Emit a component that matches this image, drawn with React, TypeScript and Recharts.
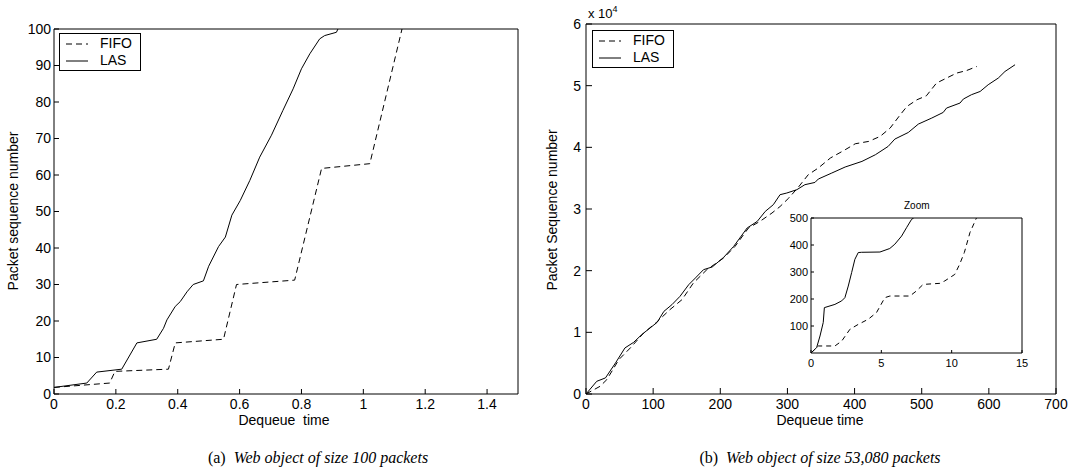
import React from 'react';
import { LineChart, Line, XAxis, YAxis, Legend } from 'recharts';

// (a) 100 packets
const lasTimeA = [0, 0.106, 0.138, 0.219, 0.268, 0.332, 0.354, 0.365, 0.392, 0.408, 0.43, 0.45, 0.483, 0.5, 0.532, 0.554, 0.575, 0.602, 0.633, 0.665, 0.703, 0.74, 0.773, 0.8, 0.827, 0.859, 0.875, 0.913, 0.918];
const lasSeqA = [1.8, 3, 6, 6.8, 14, 15, 18, 20.3, 24, 25.3, 28, 30, 31, 35, 40.4, 43, 49, 53, 58.5, 64.9, 70.9, 77.7, 83.6, 89.1, 93.2, 97.3, 98.2, 99.1, 100];
const fifoTimeA = [0, 0.18, 0.197, 0.37, 0.392, 0.548, 0.59, 0.778, 0.865, 1.021, 1.125];
const fifoSeqA = [1.8, 3, 6.2, 6.8, 14, 15, 30, 31.2, 61.8, 63.1, 100];
const xTicksA = [0, 0.2, 0.4, 0.6, 0.8, 1, 1.2, 1.4];
const yTicksA = [0, 10, 20, 30, 40, 50, 60, 70, 80, 90, 100];

// (b) 53,080 packets
const lasTimeB = [0, 16, 29, 44, 58, 71, 83, 106, 116, 128, 140, 153, 163, 175, 188, 205, 220, 240, 255, 267, 279, 289, 299, 314, 326, 341, 346, 366, 386, 411, 431, 450, 460, 480, 495, 515, 532, 537, 557, 562, 574, 587, 599, 614, 624, 639];
const lasSeqB = [0, 2060, 2610, 5040, 7470, 8380, 9630, 11620, 13400, 14490, 15840, 17730, 18820, 20160, 20600, 22160, 23940, 26920, 27990, 29610, 30700, 32320, 32590, 33130, 33940, 34310, 34860, 35830, 36810, 37720, 38800, 40150, 41340, 42410, 43770, 44750, 45660, 46370, 47180, 47830, 48530, 49060, 50150, 51230, 52300, 53390];
const fifoTimeB = [0, 21, 31, 49, 66, 86, 105, 125, 143, 160, 180, 205, 222, 242, 259, 277, 289, 302, 316, 331, 346, 364, 386, 401, 421, 438, 453, 468, 478, 493, 507, 522, 537, 552, 567, 582];
const fifoSeqB = [0, 1250, 2330, 5580, 7470, 9900, 11620, 13680, 15300, 18010, 20160, 22060, 23940, 26920, 27990, 29350, 30400, 31780, 33500, 35560, 36650, 38270, 39610, 40580, 40960, 41770, 43130, 45280, 46630, 47720, 48360, 50420, 51230, 52040, 52460, 53110];
const xTicksB = [0, 100, 200, 300, 400, 500, 600, 700];
const yTicksB = [0, 10000, 20000, 30000, 40000, 50000, 60000];

// zoom inset
const lasTimeZ = [0, 0.4, 0.64, 0.87, 0.95, 1.7, 2.18, 2.41, 2.65, 2.89, 3.12, 3.36, 3.6, 4.9, 5.6, 5.96, 6.44, 6.79, 7.15, 7.3];
const lasSeqZ = [0, 20, 63, 113, 168, 180, 193, 205, 248, 298, 347, 372, 373, 374, 387, 403, 433, 464, 495, 500];
const fifoTimeZ = [0, 0.28, 0.52, 1.7, 2.18, 2.77, 3.36, 4.07, 4.66, 5.25, 5.61, 7.03, 7.5, 7.97, 9.16, 9.51, 10.22, 10.57, 10.9, 11.3, 11.76];
const fifoSeqZ = [0, 14, 26, 26, 44, 88, 106, 125, 150, 205, 211, 211, 230, 254, 258, 267, 291, 329, 372, 446, 500];
const xTicksZ = [0, 5, 10, 15];
const yTicksZ = [100, 200, 300, 400, 500];

const pts = (t: number[], s: number[]) => t.map((x, i) => ({ t: x, seq: s[i] }));

const sans = '"Liberation Sans", Arial, sans-serif';
const serif = '"Liberation Serif", "Times New Roman", serif';
const DASH = '6 4';

const LegendBox = (props: any) => {
  const { payload = [] } = props;
  return (
    <div style={{ border: '1px solid #000', background: '#fff', padding: '1px 8px 1px 6px', fontFamily: sans, fontSize: 14, lineHeight: '17px', color: '#000' }}>
      {payload.map((p: any) => {
        const dashed = p.payload?.strokeDasharray ?? (p.value === 'FIFO' ? DASH : undefined);
        return (
          <div key={p.value} style={{ display: 'flex', alignItems: 'center' }}>
            <svg width={22} height={10}>
              <line x1={0} y1={5} x2={22} y2={5} stroke="#000" strokeWidth={1} strokeDasharray={dashed} />
            </svg>
            <span style={{ marginLeft: 12 }}>{p.value}</span>
          </div>
        );
      })}
    </div>
  );
};

const axisCommon = { stroke: '#000', axisLine: { stroke: '#000', strokeWidth: 1 }, tickLine: { stroke: '#000' } };

// top / right axes only give the MATLAB-style box with inward ticks; they need 1px of room or recharts skips them
const ChartA = () => (
  <LineChart width={530} height={430} margin={{ top: 28, right: 11, bottom: 6, left: 0 }}>
    <XAxis dataKey="t" type="number" domain={[0, 1.5]} ticks={xTicksA} interval={0} allowDataOverflow height={30}
      tickSize={-5} tickMargin={10} tick={{ fill: '#000', fontSize: 14, fontFamily: sans }} {...axisCommon} />
    <XAxis xAxisId="top" orientation="top" dataKey="t" type="number" domain={[0, 1.5]} ticks={xTicksA} interval={0} height={1}
      tick={false} tickSize={-5} {...axisCommon} />
    <YAxis type="number" domain={[0, 100]} ticks={yTicksA} interval={0} allowDataOverflow width={54}
      tickSize={-5} tickMargin={8} tick={{ fill: '#000', fontSize: 14, fontFamily: sans }} {...axisCommon} />
    <YAxis yAxisId="right" orientation="right" type="number" domain={[0, 100]} ticks={yTicksA} interval={0} width={1}
      tick={false} tickSize={-5} {...axisCommon} />
    <Legend layout="vertical" align="center" verticalAlign="middle" content={<LegendBox />}
      wrapperStyle={{ left: 59, top: 33, width: 'auto', height: 'auto' }} />
    <Line data={pts(fifoTimeA, fifoSeqA)} dataKey="seq" name="FIFO" type="linear" stroke="#000" strokeWidth={1} strokeDasharray={DASH} dot={false} isAnimationActive={false} />
    <Line data={pts(lasTimeA, lasSeqA)} dataKey="seq" name="LAS" type="linear" stroke="#000" strokeWidth={1} dot={false} isAnimationActive={false} />
  </LineChart>
);

const ChartB = () => (
  <LineChart width={528} height={430} margin={{ top: 23, right: 11, bottom: 6, left: 0 }}>
    <XAxis dataKey="t" type="number" domain={[0, 700]} ticks={xTicksB} interval={0} allowDataOverflow height={30}
      tickSize={-6} tickMargin={11} tick={{ fill: '#000', fontSize: 14, fontFamily: sans }} {...axisCommon} />
    <XAxis xAxisId="top" orientation="top" dataKey="t" type="number" domain={[0, 700]} ticks={xTicksB} interval={0} height={1}
      tick={false} tickSize={-6} {...axisCommon} />
    <YAxis type="number" domain={[0, 60000]} ticks={yTicksB} interval={0} allowDataOverflow width={46}
      tickFormatter={(v: number) => String(v / 10000)}
      tickSize={-6} tickMargin={11} tick={{ fill: '#000', fontSize: 14, fontFamily: sans }} {...axisCommon} />
    <YAxis yAxisId="right" orientation="right" type="number" domain={[0, 60000]} ticks={yTicksB} interval={0} width={1}
      tick={false} tickSize={-6} {...axisCommon} />
    <Legend layout="vertical" align="center" verticalAlign="middle" content={<LegendBox />}
      wrapperStyle={{ left: 52, top: 30, width: 'auto', height: 'auto' }} />
    <Line data={pts(fifoTimeB, fifoSeqB)} dataKey="seq" name="FIFO" type="linear" stroke="#000" strokeWidth={1} strokeDasharray={DASH} dot={false} isAnimationActive={false} />
    <Line data={pts(lasTimeB, lasSeqB)} dataKey="seq" name="LAS" type="linear" stroke="#000" strokeWidth={1} dot={false} isAnimationActive={false} />
  </LineChart>
);

const ChartZoom = () => (
  <LineChart width={250} height={180} margin={{ top: 22, right: 7, bottom: 2, left: 0 }}>
    <XAxis dataKey="t" type="number" domain={[0, 15]} ticks={xTicksZ} interval={0} allowDataOverflow height={20}
      tickSize={-3} tickMargin={9} tick={{ fill: '#000', fontSize: 11, fontFamily: sans }} {...axisCommon} />
    <XAxis xAxisId="top" orientation="top" dataKey="t" type="number" domain={[0, 15]} ticks={xTicksZ} interval={0} height={1}
      tick={false} tickSize={-3} {...axisCommon} />
    <YAxis type="number" domain={[0, 500]} ticks={yTicksZ} interval={0} allowDataOverflow width={31}
      tickSize={-3} tickMargin={6} tick={{ fill: '#000', fontSize: 11, fontFamily: sans }} {...axisCommon} />
    <YAxis yAxisId="right" orientation="right" type="number" domain={[0, 500]} ticks={yTicksZ} interval={0} width={1}
      tick={false} tickSize={-3} {...axisCommon} />
    <Line data={pts(fifoTimeZ, fifoSeqZ)} dataKey="seq" name="FIFO" type="linear" stroke="#000" strokeWidth={1} strokeDasharray="5 4" dot={false} isAnimationActive={false} />
    <Line data={pts(lasTimeZ, lasSeqZ)} dataKey="seq" name="LAS" type="linear" stroke="#000" strokeWidth={1} dot={false} isAnimationActive={false} />
  </LineChart>
);

const abs = (left: number, top: number, extra: React.CSSProperties = {}): React.CSSProperties => ({ position: 'absolute', left, top, ...extra });

export default function App() {
  const label: React.CSSProperties = { fontFamily: sans, fontSize: 14, color: '#000', whiteSpace: 'pre' };
  const yTitle = (cx: number, cy: number, text: string) => (
    <div style={abs(cx - 100, cy - 9, { ...label, width: 200, height: 18, textAlign: 'center', transform: 'rotate(-90deg)' })}>{text}</div>
  );
  const caption: React.CSSProperties = { fontFamily: serif, fontSize: 16, color: '#000', whiteSpace: 'pre', width: 400, textAlign: 'center' };
  return (
    <div style={{ position: 'absolute', left: 0, top: 0, width: 1068, height: 475, background: '#fff', overflow: 'hidden' }}>
      <div style={abs(0, 0)}><ChartA /></div>
      <div style={abs(540, 0)}><ChartB /></div>
      <div style={abs(780, 195)}><ChartZoom /></div>
      <div style={abs(904, 200, { fontFamily: sans, fontSize: 10, color: '#000' })}>Zoom</div>
      <div style={abs(588, 5, { fontFamily: sans, fontSize: 13, color: '#000' })}>x 10<sup style={{ fontSize: 9, verticalAlign: 'super', position: 'relative', top: -1 }}>4</sup></div>
      <div style={abs(184, 412, { ...label, width: 200, textAlign: 'center' })}>{'Dequeue  time'}</div>
      <div style={abs(720, 412, { ...label, width: 200, textAlign: 'center' })}>Dequeue time</div>
      {yTitle(14, 211, 'Packet sequence number')}
      {yTitle(553, 210, 'Packet Sequence number')}
      <div style={abs(118, 449, caption)}>(a)  <i>Web object of size 100 packets</i></div>
      <div style={abs(620, 449, caption)}>(b)  <i>Web object of size 53,080 packets</i></div>
    </div>
  );
}
